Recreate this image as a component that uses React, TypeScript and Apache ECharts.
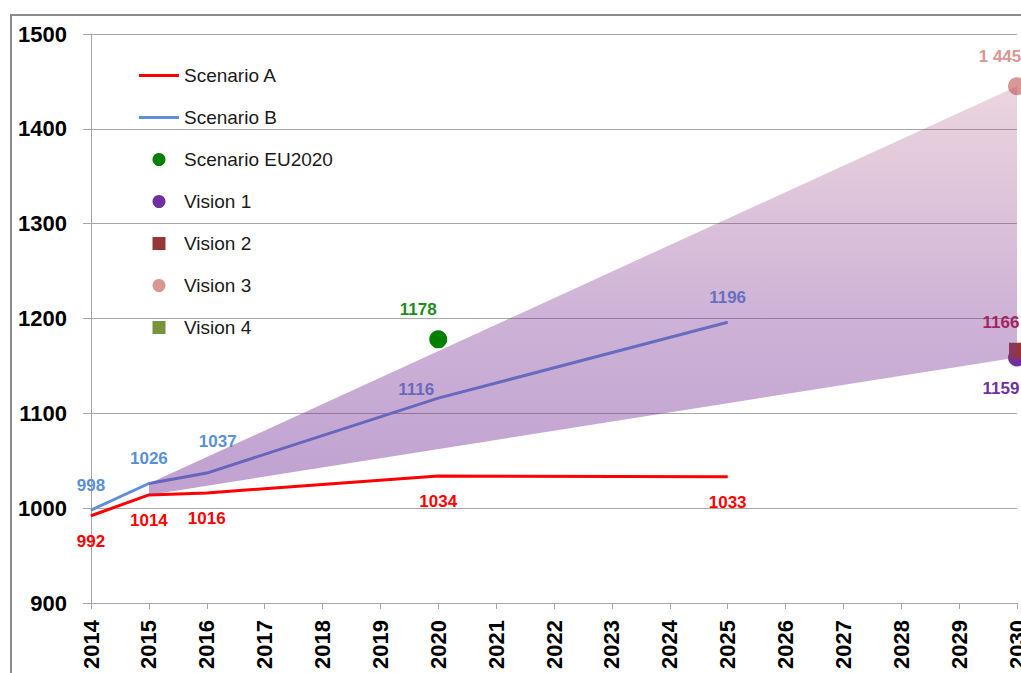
import React, { useEffect, useRef } from "react";
import * as echarts from "echarts";

// ---- data ----
const xMin = 2014;
const xMax = 2030;
const yMin = 900;
const yMax = 1500;
const yStep = 100;

const scenarioYears = [2014, 2015, 2016, 2020, 2025];
const scenarioA = [992, 1014, 1016, 1034, 1033];
const scenarioB = [998, 1026, 1037, 1116, 1196];

const eu2020Years = [2020];
const eu2020 = [1178];

const visionYears = [2030];
const vision1 = [1159];
const vision2 = [1166];
const vision3 = [1445];
const vision4: number[] = [];
const vision3Text = ["1 445"];

const fanYears = [2015, 2030];
const fanUpper = [1026, 1445];
const fanLower = [1014, 1159];

const legendNames = [
  "Scenario A",
  "Scenario B",
  "Scenario EU2020",
  "Vision 1",
  "Vision 2",
  "Vision 3",
  "Vision 4",
];
const LINE_ICON = "path://M0,0H40V3H0Z";
const SQUARE_ICON = "path://M0,0H12V12H0Z";
const legendIcons = [LINE_ICON, LINE_ICON, "circle", "circle", SQUARE_ICON, "circle", SQUARE_ICON];

// ---- styles ----
const FONT = "'Liberation Sans', Arial, sans-serif";
const RED = "#FF0000";
const BLUE = "#5B8FD9";
const GREEN = "#008000";
const PURPLE = "#7030A0";
const DARKRED = "#953735";
const PINK = "#D99694";
const OLIVE = "#77933C";
const GRID = "#A6A6A6";

const offsetsB = [[0, 0], [0, 0], [11, -7], [-22, 16], [0, 0]];

const pts = (xs: number[], ys: number[]) => ys.map((v, i) => [xs[i], v]);

export default function App() {
  const ref = useRef<HTMLDivElement>(null);

  useEffect(() => {
    if (!ref.current) return;
    const chart = echarts.init(ref.current, undefined, { renderer: "svg" });

    const labelBase = { show: true, fontFamily: FONT, fontWeight: "bold", fontSize: 17 };

    const option: any = {
      animation: false,
      backgroundColor: "#fff",
      textStyle: { fontFamily: FONT },
      graphic: [
        {
          type: "rect",
          z: -10,
          shape: { x: 11, y: 15, width: 1300, height: 900 },
          style: { fill: "none", stroke: "#8C8C8C", lineWidth: 2 },
          silent: true,
        },
      ],
      grid: { left: 91, top: 34, right: 4, bottom: 70, containLabel: false, outerBoundsMode: "none" },
      legend: {
        orient: "vertical",
        left: 139,
        top: 66,
        padding: 0,
        itemWidth: 40,
        itemHeight: 13,
        itemGap: 23,
        symbolKeepAspect: true,
        selectedMode: false,
        data: legendNames.map((n, i) => ({ name: n, icon: legendIcons[i] })),
        textStyle: { fontFamily: FONT, fontSize: 19, lineHeight: 19, color: "#1A1A1A" },
      },
      xAxis: {
        type: "value",
        min: xMin,
        max: xMax,
        interval: 1,
        axisLine: { show: true, lineStyle: { color: GRID, width: 1 } },
        axisTick: { show: true, length: 6, lineStyle: { color: GRID } },
        splitLine: { show: false },
        axisLabel: {
          rotate: 90,
          margin: 17,
          fontFamily: FONT,
          fontWeight: "bold",
          fontSize: 22,
          color: "#000",
          formatter: (v: number) => String(v),
        },
      },
      yAxis: {
        type: "value",
        min: yMin,
        max: yMax,
        interval: yStep,
        axisLine: { show: true, lineStyle: { color: GRID, width: 1 } },
        axisTick: { show: true, length: 8, lineStyle: { color: GRID } },
        splitLine: { show: true, lineStyle: { color: GRID, width: 1 } },
        axisLabel: {
          margin: 24,
          fontFamily: FONT,
          fontWeight: "bold",
          fontSize: 22,
          color: "#000",
          formatter: (v: number) => String(v),
        },
      },
      series: [
        {
          name: "Scenario B",
          type: "line",
          data: pts(scenarioYears, scenarioB),
          symbol: "none",
          lineStyle: { color: BLUE, width: 3 },
          itemStyle: { color: BLUE },
          z: 2,
        },
        {
          name: "Scenario A",
          type: "line",
          data: pts(scenarioYears, scenarioA),
          symbol: "none",
          lineStyle: { color: RED, width: 3 },
          itemStyle: { color: RED },
          z: 3,
        },
        {
          name: "labelsA",
          type: "scatter",
          symbolSize: 1,
          itemStyle: { color: RED, opacity: 1 },
          data: pts(scenarioYears, scenarioA),
          label: { ...labelBase, color: RED, position: "bottom", distance: 17, formatter: (p: any) => String(p.value[1]) },
          z: 4,
        },
        {
          name: "labelsB",
          type: "scatter",
          symbolSize: 1,
          itemStyle: { color: BLUE, opacity: 1 },
          data: pts(scenarioYears, scenarioB).map((v, i) => ({
            value: v,
            label: { offset: offsetsB[i] },
          })),
          label: { ...labelBase, color: BLUE, position: "top", distance: 16, formatter: (p: any) => String(p.value[1]) },
          z: 4,
        },
        {
          name: "Scenario EU2020",
          type: "scatter",
          symbol: "circle",
          symbolSize: 18,
          itemStyle: { color: GREEN, opacity: 1 },
          data: pts(eu2020Years, eu2020),
          label: { ...labelBase, color: "#1E8C1E", position: "top", distance: 12, offset: [-20, 0], formatter: (p: any) => String(p.value[1]) },
          z: 4,
        },
        {
          name: "Vision 1",
          type: "scatter",
          symbol: "circle",
          symbolSize: 18,
          itemStyle: { color: PURPLE, opacity: 1 },
          data: pts(visionYears, vision1),
          label: { ...labelBase, color: PURPLE, position: "bottom", distance: 14, offset: [-16, 0], formatter: (p: any) => String(p.value[1]) },
          z: 4,
        },
        {
          name: "Vision 2",
          type: "scatter",
          symbol: "rect",
          symbolSize: 16,
          itemStyle: { color: DARKRED, opacity: 1 },
          data: pts(visionYears, vision2),
          label: { ...labelBase, color: "#C0143C", position: "top", distance: 12, offset: [-16, 0], formatter: (p: any) => String(p.value[1]) },
          z: 5,
        },
        {
          name: "Vision 3",
          type: "scatter",
          symbol: "circle",
          symbolSize: 18,
          itemStyle: { color: PINK, opacity: 1 },
          data: pts(visionYears, vision3),
          label: {
            ...labelBase,
            color: PINK,
            position: "top",
            distance: 12,
            offset: [-17, 0],
            formatter: (p: any) => vision3Text[p.dataIndex],
          },
          z: 4,
        },
        {
          name: "Vision 4",
          type: "scatter",
          symbol: "rect",
          symbolSize: 16,
          itemStyle: { color: OLIVE, opacity: 1 },
          data: vision4,
        },
        {
          name: "fan",
          type: "custom",
          silent: true,
          z: 10,
          encode: { x: 0, y: 1 },
          data: pts(fanYears, fanLower),
          renderItem: (params: any, api: any) => {
            if (params.dataIndex !== 0) return null;
            const upper = fanYears.map((y, i) => api.coord([y, fanUpper[i]]));
            const lower = fanYears.map((y, i) => api.coord([y, fanLower[i]])).reverse();
            return {
              type: "polygon",
              shape: { points: [...upper, ...lower] },
              style: {
                fill: new echarts.graphic.LinearGradient(0, 0, 0, 1, [
                  { offset: 0, color: "rgba(170,80,120,0.24)" },
                  { offset: 0.55, color: "rgba(125,55,150,0.38)" },
                  { offset: 1, color: "rgba(115,45,150,0.45)" },
                ]),
              },
            };
          },
        },
      ],
    };

    chart.setOption(option);
    return () => chart.dispose();
  }, []);

  return (
    <div
      ref={ref}
      style={{ position: "absolute", left: 0, top: 0, width: 1021, height: 673, background: "#fff" }}
    />
  );
}
